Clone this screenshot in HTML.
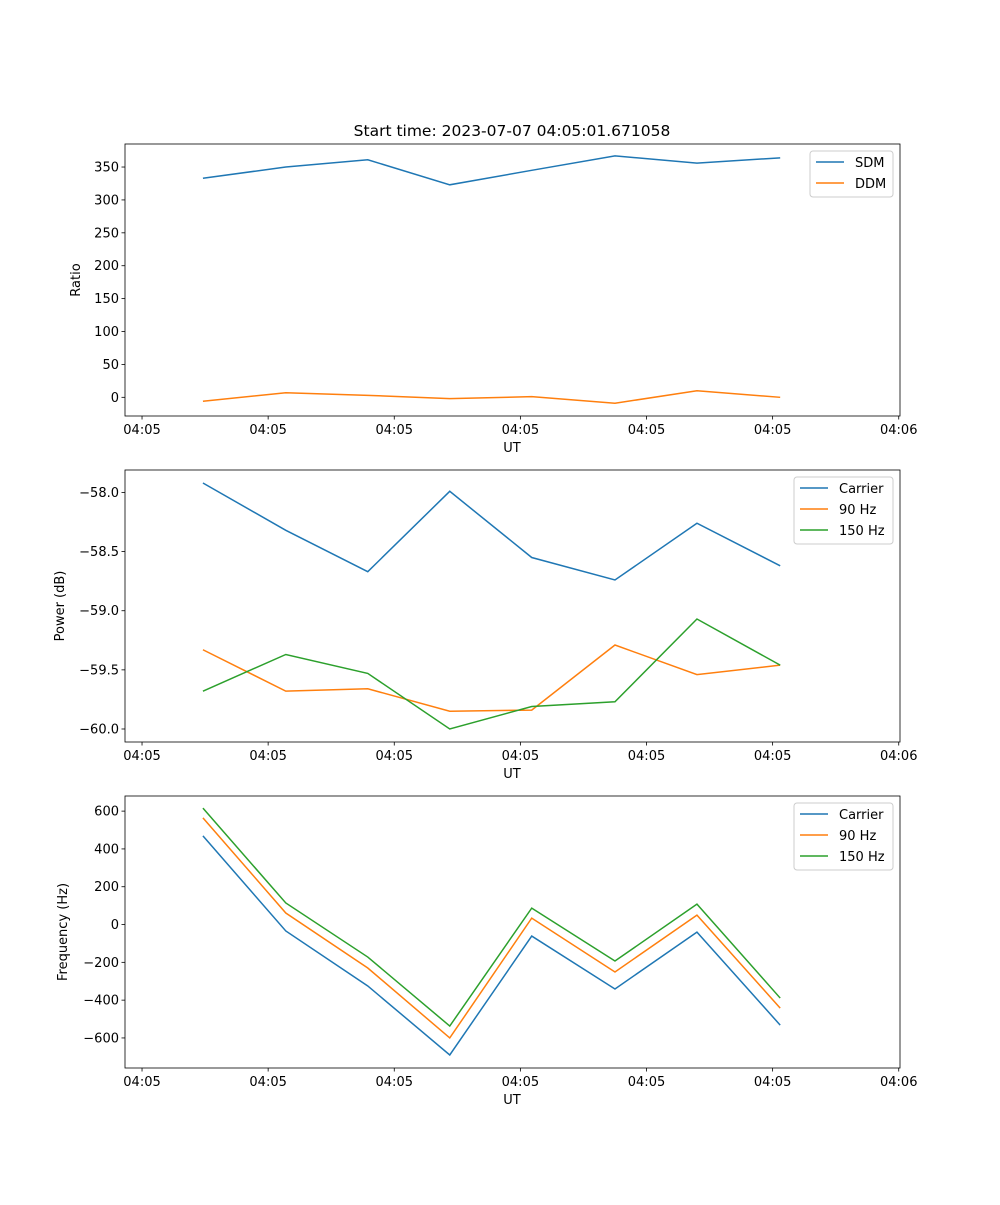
<!DOCTYPE html>
<html><head><meta charset="utf-8"><style>
body{margin:0;background:#fff}
svg text{font-family:"DejaVu Sans","Liberation Sans",sans-serif;font-size:13px;fill:#000}
</style></head><body>
<svg id="chart" width="1000" height="1200" xmlns="http://www.w3.org/2000/svg">
<rect width="1000" height="1200" fill="#fff"/>
<text x="512" y="136" text-anchor="middle" style="font-size:15.5px">Start time: 2023-07-07 04:05:01.671058</text>
</svg>
<script>
const times=[4.83,11.4,17.9,24.4,30.9,37.5,44.0,50.6];
const xTicks=[0,10,20,30,40,50,60];
const xTickLabels=["04:05","04:05","04:05","04:05","04:05","04:05","04:06"];
const sdm=[333,350,361,323,345,367,356,364];
const ddm=[-6,7,3,-2,1,-9,10,0];
const pCarrier=[-57.92,-58.32,-58.67,-57.99,-58.55,-58.74,-58.26,-58.62];
const p90=[-59.33,-59.68,-59.66,-59.85,-59.84,-59.29,-59.54,-59.46];
const p150=[-59.68,-59.37,-59.53,-60.0,-59.81,-59.77,-59.07,-59.46];
const fCarrier=[469,-34,-325,-690,-61,-341,-40,-532];
const f90=[564,61,-230,-600,34,-251,50,-442];
const f150=[616,114,-172,-537,87,-193,108,-389];
const ratioTicks=[0,50,100,150,200,250,300,350];
const powerTicks=[-60.0,-59.5,-59.0,-58.5,-58.0];
const freqTicks=[-600,-400,-200,0,200,400,600];

const svg=document.getElementById('chart');
const NS='http://www.w3.org/2000/svg';
const C=['#1f77b4','#ff7f0e','#2ca02c'];
function mk(tag,attrs,parent){const e=document.createElementNS(NS,tag);for(const k in attrs)e.setAttribute(k,attrs[k]);(parent||svg).appendChild(e);return e;}
const X0=125,X1=900,TX0=-1.35,TX1=60.1;
const xs=t=>X0+(t-TX0)/(TX1-TX0)*(X1-X0);

function panel(key,top,ymin,ymax,yticks,fmt,ylabel,series,names,legendBox){
  const bot=top+272;
  const ys=v=>bot-(v-ymin)/(ymax-ymin)*272;
  const g=mk('g',{});
  
  
  series.forEach((s,i)=>{
    const p=mk('polyline',{points:s.map((v,j)=>xs(times[j])+','+ys(v)).join(' '),fill:'none',stroke:C[i],'stroke-width':1.5},g);
    
    
  });
  const fr=mk('rect',{x:X0,y:top,width:X1-X0,height:272,fill:'none',stroke:'#000','stroke-width':0.8},g);
  
  
  xTicks.forEach((t,i)=>{
    const x=xs(t);
    mk('line',{x1:x,x2:x,y1:bot,y2:bot+3.5,stroke:'#000','stroke-width':0.8},g);
    const tx=mk('text',{x:x,y:bot+18,'text-anchor':'middle'},g);tx.textContent=xTickLabels[i];
    
    
  });
  yticks.forEach(v=>{
    const y=ys(v);
    mk('line',{x1:X0-3.5,x2:X0,y1:y,y2:y,stroke:'#000','stroke-width':0.8},g);
    const tx=mk('text',{x:X0-6,y:y+4.5,'text-anchor':'end'},g);tx.textContent=fmt(v);
    
    
  });
  const xl=mk('text',{x:512,y:bot+36,'text-anchor':'middle'},g);xl.textContent='UT';
  
  
  const yl=mk('text',{x:0,y:0,'text-anchor':'middle',transform:`translate(${legendBox.yx},${top+136}) rotate(-90)`},g);yl.textContent=ylabel;
  
  
  const lg=mk('g',{},g);
  
  
  mk('rect',{x:legendBox.x,y:top+7,width:893-legendBox.x,height:names.length*21+4,rx:3,fill:'#fff',stroke:'#ccc','stroke-width':1},lg);
  names.forEach((n,i)=>{
    const y=top+18+i*21;
    mk('line',{x1:legendBox.x+6,x2:legendBox.x+34,y1:y,y2:y,stroke:C[i],'stroke-width':1.5},lg);
    const t=mk('text',{x:legendBox.x+45,y:y+5},lg);t.textContent=n;
    
    
  });
}
panel('ratio',144,-28.4,385,ratioTicks,v=>String(v),'Ratio',[sdm,ddm],['SDM','DDM'],{x:810,yx:80});
panel('power',470,-60.11,-57.81,powerTicks,v=>'\u2212'+Math.abs(v).toFixed(1),'Power (dB)',[pCarrier,p90,p150],['Carrier','90 Hz','150 Hz'],{x:794,yx:64});
panel('frequency',796,-759,680,freqTicks,v=>v<0?'\u2212'+(-v):String(v),'Frequency (Hz)',[fCarrier,f90,f150],['Carrier','90 Hz','150 Hz'],{x:794,yx:67});
</script>
</body></html>
